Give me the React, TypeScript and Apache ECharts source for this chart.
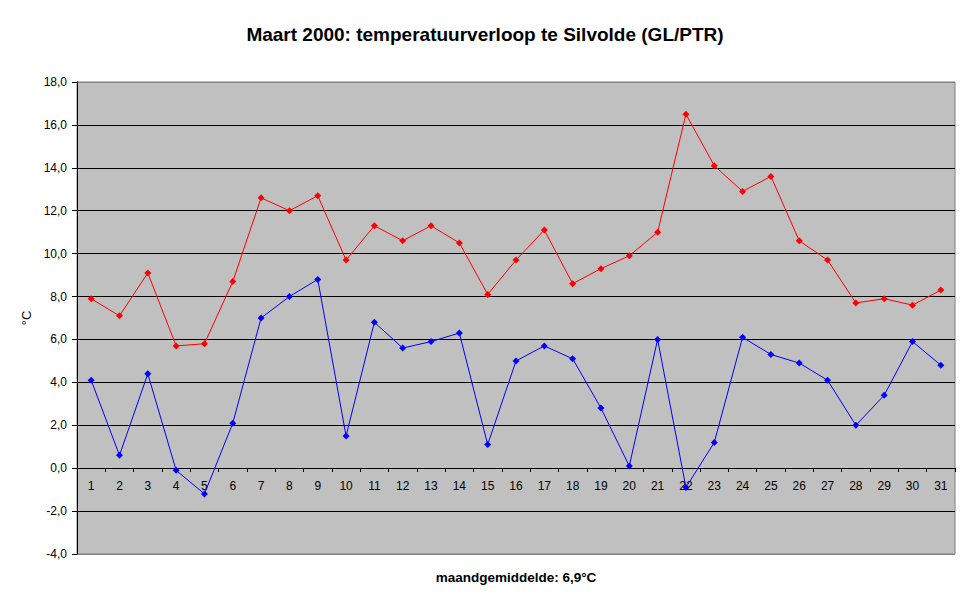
import React, { useEffect, useRef } from "react";
import * as echarts from "echarts";

const titleText = "Maart 2000: temperatuurverloop te Silvolde (GL/PTR)";
const footerText = "maandgemiddelde: 6,9°C";
const yAxisName = "°C";
const days = Array.from({ length: 31 }, (_, i) => String(i + 1));
const maxTemps = [
  7.9, 7.1, 9.1, 5.7, 5.8, 8.7, 12.6, 12.0, 12.7, 9.7, 11.3, 10.6, 11.3, 10.5, 8.1, 9.7,
  11.1, 8.6, 9.3, 9.9, 11.0, 16.5, 14.1, 12.9, 13.6, 10.6, 9.7, 7.7, 7.9, 7.6, 8.3,
];
const minTemps = [
  4.1, 0.6, 4.4, -0.1, -1.2, 2.1, 7.0, 8.0, 8.8, 1.5, 6.8, 5.6, 5.9, 6.3, 1.1, 5.0,
  5.7, 5.1, 2.8, 0.1, 6.0, -0.9, 1.2, 6.1, 5.3, 4.9, 4.1, 2.0, 3.4, 5.9, 4.8,
];

const FONT = "'Liberation Sans', Arial, sans-serif";

export default function App() {
  const ref = useRef<HTMLDivElement>(null);
  useEffect(() => {
    document.body.style.margin = "0";
    if (!ref.current) return;
    const chart = echarts.init(ref.current, null, { renderer: "svg" });
    const splitColors = Array.from({ length: 12 }, (_, i) =>
      i === 0 || i === 11 ? "#808080" : "#000000"
    );
    chart.setOption({
      animation: false,
      backgroundColor: "#ffffff",
      textStyle: { fontFamily: FONT },
      title: {
        text: titleText,
        left: "center",
        top: 25,
        padding: 0,
        textStyle: { fontSize: 19, fontWeight: "bold", color: "#000", fontFamily: FONT },
      },
      graphic: [
        {
          type: "text",
          x: 516,
          y: 577,
          style: {
            text: footerText,
            fontSize: 13.5,
            fontWeight: "bold",
            fill: "#000",
            fontFamily: FONT,
            align: "center",
            verticalAlign: "middle",
          },
        },
      ],
      grid: {
        left: 77,
        right: 15,
        top: 82,
        bottom: 50,
        show: true,
        backgroundColor: "#C0C0C0",
        borderColor: "#808080",
        borderWidth: 1,
      },
      xAxis: {
        type: "category",
        data: days,
        boundaryGap: true,
        position: "bottom",
        offset: -86,
        axisLine: { show: true, onZero: false, lineStyle: { color: "#000", width: 1 } },
        axisTick: { show: true, length: 4, alignWithLabel: false, lineStyle: { color: "#000" } },
        axisLabel: { color: "#000", fontSize: 12, margin: 12, fontFamily: FONT, interval: 0 },
        splitLine: { show: false },
      },
      yAxis: {
        type: "value",
        min: -4,
        max: 18,
        interval: 2,
        name: yAxisName,
        nameLocation: "middle",
        nameGap: 43,
        nameTextStyle: { color: "#000", fontSize: 13, fontFamily: FONT },
        axisLine: { show: true, lineStyle: { color: "#000", width: 1 } },
        axisTick: { show: true, length: 5, lineStyle: { color: "#000" } },
        axisLabel: {
          color: "#000",
          fontSize: 12,
          margin: 10,
          fontFamily: FONT,
          formatter: (v: number) => v.toFixed(1).replace(".", ","),
        },
        splitLine: { show: true, lineStyle: { color: splitColors, width: 1 } },
      },
      series: [
        {
          name: "max",
          type: "line",
          data: maxTemps,
          symbol: "diamond",
          symbolSize: 7,
          showAllSymbol: true,
          lineStyle: { color: "#FF0000", width: 1 },
          itemStyle: { color: "#FF0000" },
        },
        {
          name: "min",
          type: "line",
          data: minTemps,
          symbol: "diamond",
          symbolSize: 7,
          showAllSymbol: true,
          lineStyle: { color: "#0000FF", width: 1 },
          itemStyle: { color: "#0000FF" },
        },
      ],
    });
    return () => chart.dispose();
  }, []);
  return (
    <div
      ref={ref}
      style={{ position: "absolute", left: 0, top: 0, width: 970, height: 604 }}
    />
  );
}
